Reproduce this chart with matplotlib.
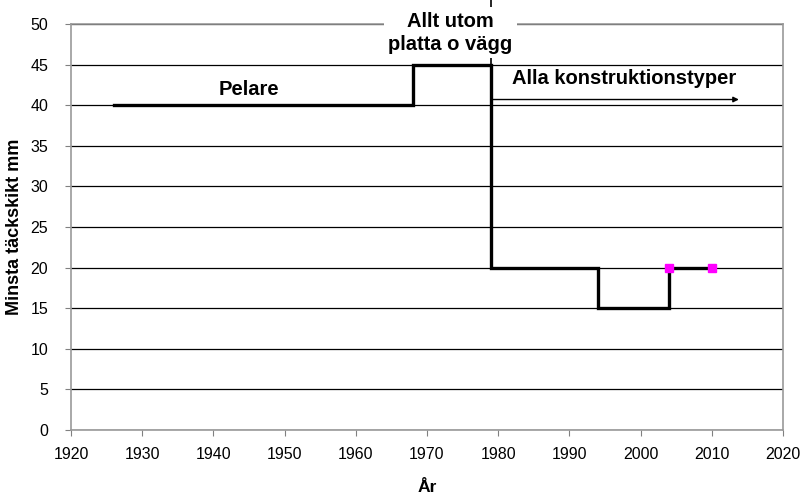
import matplotlib
matplotlib.use("Agg")
import matplotlib.pyplot as plt

# step data: year -> minimum cover (mm)
years = [1926, 1968, 1968, 1979, 1979, 1994, 1994, 2004, 2004, 2010]
cover = [40, 40, 45, 45, 20, 20, 15, 15, 20, 20]
marker_years = [2004, 2010]
marker_cover = [20, 20]

xticks = list(range(1920, 2021, 10))
yticks = list(range(0, 51, 5))

plt.rcParams['font.family'] = ['Liberation Sans', 'DejaVu Sans']

fig = plt.figure(figsize=(8.06, 4.98), dpi=100)
ax = fig.add_axes([71 / 806, 1 - 430 / 498, (783 - 71) / 806, (430 - 24) / 498])

ax.set_xlim(1920, 2020)
ax.set_ylim(0, 50)
ax.set_xticks(xticks)
ax.set_yticks(yticks)
ax.tick_params(labelsize=11.5, direction='out', length=4.5, color='#808080')
ax.tick_params(axis='y', pad=12)
ax.tick_params(axis='x', pad=8)
ax.yaxis.grid(True, color='black', linewidth=0.9)
ax.set_axisbelow(True)
for s in ax.spines.values():
    s.set_color('#999999')
    s.set_linewidth(1.2)

ax.plot(years, cover, color='black', linewidth=2.4, solid_joinstyle='miter', zorder=3)
ax.plot(marker_years, marker_cover, linestyle='none', marker='s', markersize=5.5,
        color='#ff00ff', zorder=4)

# thin line that peeks above the label box
ax.plot([1979, 1979], [45, 53.2], color='black', linewidth=1.2, clip_on=False, zorder=2)

# arrow for "Alla konstruktionstyper"
ax.annotate('', xy=(2013.8, 40.7), xytext=(1979, 40.7),
            arrowprops=dict(arrowstyle='-|>', color='black', lw=1.0,
                            mutation_scale=8, shrinkA=0, shrinkB=0), zorder=3)

ax.text(1945, 41.9, 'Pelare', ha='center', va='center', fontsize=14.5, fontweight='bold')
ax.text(1997.7, 43.3, 'Alla konstruktionstyper', ha='center', va='center',
        fontsize=14.5, fontweight='bold')
ax.text(1973.3, 48.9, 'Allt utom\nplatta o vägg', ha='center', va='center',
        fontsize=14.5, fontweight='bold', linespacing=1.3, zorder=5,
        bbox=dict(facecolor='white', edgecolor='none', pad=3))

ax.set_xlabel('År', fontsize=12.5, fontweight='bold', labelpad=13)
ax.set_ylabel('Minsta täckskikt mm', fontsize=13, fontweight='bold', labelpad=5)

fig.savefig('out.png', dpi=100)
